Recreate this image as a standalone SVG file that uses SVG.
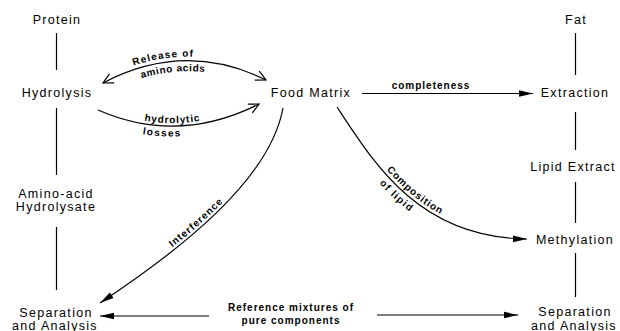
<svg xmlns="http://www.w3.org/2000/svg" width="620" height="331" viewBox="0 0 620 331">
<style>
.n{font-family:"Liberation Sans",Arial,sans-serif;font-size:12.5px;letter-spacing:1.3px;fill:#000;text-anchor:middle}
.l{font-family:"Liberation Sans",Arial,sans-serif;font-size:10px;font-weight:bold;letter-spacing:1px;fill:#000}
.c{fill:none;stroke:#000;stroke-width:1.2}
</style>
<defs>
<marker id="fa" markerUnits="userSpaceOnUse" viewBox="-15 -5 17 10" markerWidth="17" markerHeight="10" refX="0" refY="0" orient="auto">
<path d="M-14,-3.3 L0,0 L-14,3.3 Z" fill="#000"/>
</marker>
<marker id="oa" markerUnits="userSpaceOnUse" viewBox="-12 -7 14 14" markerWidth="14" markerHeight="14" refX="0" refY="0" orient="auto-start-reverse">
<path d="M-10,-5 L0,0 L-10,5" fill="none" stroke="#000" stroke-width="1.2"/>
</marker>
<path id="pRel" d="M103,83 Q185,40 266,80"/>
<path id="pHyd" d="M98,110 Q178,145 259,104"/>
<path id="pInt" d="M100,303 C180,250 270,180 283,108"/>
<path id="pCom" d="M337,107 C375,165 420,238 527,239"/>
</defs>
<rect width="620" height="331" fill="#fff"/>

<g id="connectors">
<line class="c" x1="56.5" y1="33" x2="56.5" y2="70"/>
<line class="c" x1="56.5" y1="108" x2="56.5" y2="175"/>
<line class="c" x1="56.5" y1="227" x2="56.5" y2="290"/>
<line class="c" x1="575.5" y1="33" x2="575.5" y2="75"/>
<line class="c" x1="575.5" y1="112" x2="575.5" y2="150"/>
<line class="c" x1="575.5" y1="182" x2="575.5" y2="223"/>
<line class="c" x1="575.5" y1="253" x2="575.5" y2="297"/>
<path class="c" d="M103,83 Q185,40 266,80" marker-start="url(#oa)" marker-end="url(#oa)"/>
<path class="c" d="M98,110 Q178,145 259,104" marker-end="url(#oa)"/>
<path class="c" d="M362,93.5 H533" marker-end="url(#fa)"/>
<path class="c" d="M283,108 C270,180 180,250 100,303" marker-end="url(#fa)"/>
<path class="c" d="M337,107 C375,165 420,238 527,239" marker-end="url(#fa)"/>
<path class="c" d="M209,316 H100" marker-end="url(#fa)"/>
<path class="c" d="M377,315 H518" marker-end="url(#fa)"/>
<text class="l" dy="-4"><textPath href="#pRel" startOffset="38%" text-anchor="middle">Release of</textPath></text>
<text class="l" dy="10.5"><textPath href="#pRel" startOffset="43%" text-anchor="middle">amino acids</textPath></text>
<text class="l" dy="-3"><textPath href="#pHyd" startOffset="46%" text-anchor="middle">hydrolytic</textPath></text>
<text class="l" dy="10.5"><textPath href="#pHyd" startOffset="40%" text-anchor="middle">losses</textPath></text>
<text class="l" x="431" y="89" text-anchor="middle">completeness</text>
<text class="l" dy="-3"><textPath href="#pInt" startOffset="46%" text-anchor="middle">Interference</textPath></text>
<text class="l" dy="-3.5"><textPath href="#pCom" startOffset="33%">Composition</textPath></text>
<text class="l" dy="11"><textPath href="#pCom" startOffset="35%">of lipid</textPath></text>
<text class="l" x="291" y="311" text-anchor="middle">Reference mixtures of</text>
<text class="l" x="291" y="324" text-anchor="middle">pure components</text>
</g>

<g id="protein"><text class="n" x="57" y="24">Protein</text></g>
<g id="hydrolysis"><text class="n" x="57" y="97">Hydrolysis</text></g>
<g id="hydrolysate"><text class="n" x="56" y="198">Amino-acid</text><text class="n" x="56" y="211">Hydrolysate</text></g>
<g id="separation-left"><text class="n" x="56" y="317">Separation</text><text class="n" x="55" y="329.5">and Analysis</text></g>
<g id="food-matrix"><text class="n" x="311" y="97">Food Matrix</text></g>
<g id="fat"><text class="n" x="576" y="24">Fat</text></g>
<g id="extraction"><text class="n" x="575" y="97">Extraction</text></g>
<g id="lipid-extract"><text class="n" x="573" y="171">Lipid Extract</text></g>
<g id="methylation"><text class="n" x="575" y="244">Methylation</text></g>
<g id="separation-right"><text class="n" x="575" y="316">Separation</text><text class="n" x="574" y="329.5">and Analysis</text></g>
</svg>
